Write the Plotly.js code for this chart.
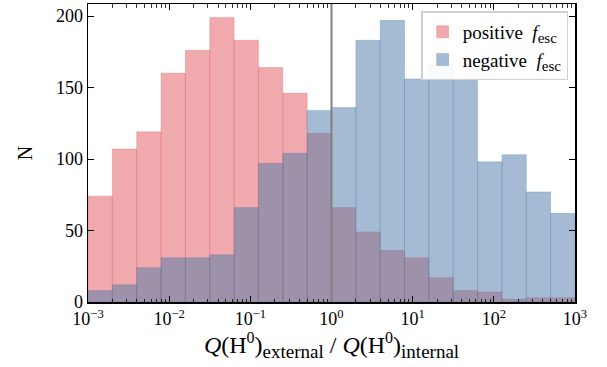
<!DOCTYPE html>
<html>
<head>
<meta charset="utf-8">
<script src="https://cdn.plot.ly/plotly-3.0.1.min.js"></script>
<style>html,body{margin:0;padding:0;background:#fff;}#chart{width:607px;height:367px;}</style>
</head>
<body>
<div id="chart"></div>
<script>
// Bin edges as log10 of Q(H0)_external / Q(H0)_internal
const binEdgesLog = [-3.0,-2.7,-2.4,-2.1,-1.8,-1.5,-1.2,-0.9,-0.6,-0.3,0.0,0.3,0.6,0.9,1.2,1.5,1.8,2.1,2.4,2.7,3.0];
const positiveCounts = [74,107,119,160,176,199,183,164,146,118,66,49,36,31,17,8,7,2,3,3];
const negativeCounts = [8,12,24,31,31,33,66,97,104,134,136,183,197,156,167,155,98,103,77,62];
const seriesNames = ['positive  <i>f</i><sub><span style="font-size:15px">esc</span></sub>',
                     'negative  <i>f</i><sub><span style="font-size:15px">esc</span></sub>'];
const majorTickExp = [-3,-2,-1,0,1,2,3];

const centers = [], widths = [];
for (let i = 0; i < binEdgesLog.length - 1; i++) {
  centers.push((binEdgesLog[i] + binEdgesLog[i+1]) / 2);
  widths.push(binEdgesLog[i+1] - binEdgesLog[i]);
}
const minorTicks = [];
for (let e = -3; e < 3; e++) for (let k = 2; k <= 9; k++) minorTicks.push(e + Math.log10(k));

const font = {family: 'Liberation Serif, DejaVu Serif, serif', color: '#000'};
const traces = [
  {type:'bar', x:centers, y:positiveCounts, width:widths, name:seriesNames[0],
   marker:{color:'rgba(225,85,91,0.5)', line:{color:'rgba(225,85,91,0.45)', width:0.6}}},
  {type:'bar', x:centers, y:negativeCounts, width:widths, name:seriesNames[1],
   marker:{color:'rgba(75,119,167,0.5)', line:{color:'rgba(75,119,167,0.45)', width:0.6}}}
];
const xTitle = '<i>Q</i>(H<sup><span style="font-size:16px">0</span></sup>)<sub><span style="font-size:19px">external</span></sub>' +
               ' / <i>Q</i>(H<sup><span style="font-size:16px">0</span></sup>)<sub><span style="font-size:19px">internal</span></sub>';
const layout = {
  width:607, height:367,
  margin:{l:88, r:32, t:4, b:65},
  paper_bgcolor:'#fff', plot_bgcolor:'#fff',
  barmode:'overlay', bargap:0,
  font:Object.assign({size:18}, font),
  xaxis:{
    range:[-3,3], showgrid:false, zeroline:false,
    tickmode:'array', tickvals:majorTickExp,
    ticktext:majorTickExp.map(e => '10<sup>' + (e < 0 ? '\u2212' + (-e) : e) + '</sup>'),
    ticks:'inside', ticklen:6, tickwidth:1, tickcolor:'#000',
    showline:true, linecolor:'#000', linewidth:1.5, mirror:'allticks',
    minor:{tickmode:'array', tickvals:minorTicks, ticks:'inside', ticklen:3.5, tickwidth:0.8, tickcolor:'#000'},
    tickfont:{size:18},
    title:{text:xTitle, font:{size:24}, standoff:2}
  },
  yaxis:{
    range:[0,208.4], showgrid:false, zeroline:false,
    tickmode:'array', tickvals:[0,50,100,150,200],
    ticks:'inside', ticklen:6, tickwidth:1, tickcolor:'#000',
    showline:true, linecolor:'#000', linewidth:1.5, mirror:'allticks',
    tickfont:{size:18},
    title:{text:'N', font:{size:20}, standoff:18}
  },
  shapes:[{type:'line', xref:'x', yref:'paper', x0:0, x1:0, y0:0, y1:1,
           line:{color:'#808080', width:2}, layer:'above'}],
  legend:{x:0.986, y:0.975, xanchor:'right', yanchor:'top',
          bgcolor:'rgba(255,255,255,0.92)', bordercolor:'#d0d0d0', borderwidth:1.5,
          font:{size:19}, traceorder:'normal', itemwidth:30, tracegroupgap:0},
  showlegend:true
};
Plotly.newPlot('chart', traces, layout, {staticPlot:true, displayModeBar:false});
</script>
</body>
</html>
